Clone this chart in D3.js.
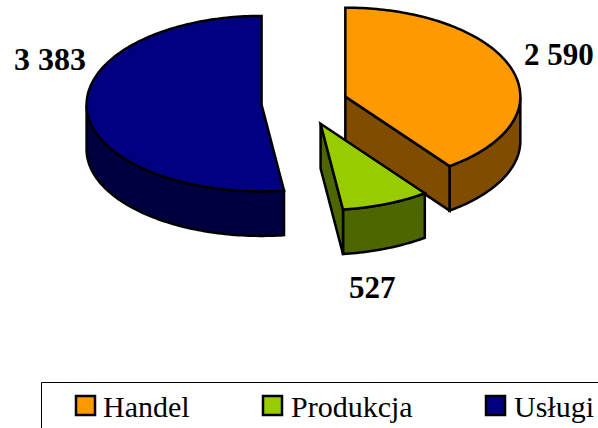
<!DOCTYPE html>
<html>
<head>
<meta charset="utf-8">
<script src="https://cdn.jsdelivr.net/npm/d3@7"></script>
<style>
html,body{margin:0;padding:0;background:#fff;overflow:hidden}
svg{display:block}
text{font-family:"Liberation Serif","Times New Roman",serif;fill:#000}
</style>
</head>
<body>
<svg id="chart" width="598" height="428"></svg>
<script>
const categories = ["Handel", "Produkcja", "Usługi"];
const values = [2590, 527, 3383];
const valueLabels = ["2 590", "527", "3 383"];
const topColors = ["#FF9900", "#99CC00", "#000080"];
const sideColors = ["#804D00", "#4D6600", "#000040"];

// layout
const cx = 304.5, cy = 103.5, rx = 175, ryBack = 89, ryFront = 86.5, depth = 44.5, explode = 43;
const labelPos = [[524, 65], [349, 298], [14, 70]];
const labelSize = [31, 31, 32];
const legendSwatchX = [76, 263, 486];
const legendTextX = [103, 291, 514];

const svg = d3.select("#chart");
const pie = d3.pie().sort(null).value(d => d);
const arcs = pie(values);
const line = d3.line();

function pt(o, a, dz) {
  const c = Math.cos(a);
  return [o[0] + rx * Math.sin(a), o[1] - (c > 0 ? ryBack : ryFront) * c + (dz || 0)];
}
function samples(a0, a1) {
  const n = Math.max(2, Math.ceil(Math.abs(a1 - a0) / 0.02));
  return d3.range(n + 1).map(i => a0 + (a1 - a0) * i / n);
}
function origin(d) {
  const m = (d.startAngle + d.endAngle) / 2;
  return [cx + explode * Math.sin(m), cy - explode * (ryBack / rx) * Math.cos(m)];
}
const stroke = s => s.attr("stroke", "#000").attr("stroke-width", 2.5).attr("stroke-linejoin", "miter");

const order = [2, 0, 1];
order.forEach(i => {
  const d = arcs[i], o = origin(d);
  const g = svg.append("g");
  // outer wall: visible part of the rim lies between 90deg and 270deg
  const w0 = Math.max(d.startAngle, Math.PI / 2), w1 = Math.min(d.endAngle, 3 * Math.PI / 2);
  if (w1 > w0) {
    const as = samples(w0, w1);
    const pts = as.map(a => pt(o, a)).concat(as.slice().reverse().map(a => pt(o, a, depth)));
    g.append("path").attr("d", line(pts) + "Z").attr("fill", sideColors[i]).call(stroke);
  }
  // cut face on the end side of the slice, shown when it faces the viewer
  if (i !== 2) {
    const e = pt(o, d.endAngle);
    const pts = [o, e, [e[0], e[1] + depth], [o[0], o[1] + depth]];
    g.append("path").attr("d", line(pts) + "Z").attr("fill", sideColors[i]).call(stroke);
  }
  // top face
  const pts = [o].concat(samples(d.startAngle, d.endAngle).map(a => pt(o, a)));
  g.append("path").attr("d", line(pts) + "Z").attr("fill", topColors[i]).call(stroke);
});

svg.selectAll("text.val").data(valueLabels).join("text")
  .attr("class", "val")
  .attr("x", (d, i) => labelPos[i][0])
  .attr("y", (d, i) => labelPos[i][1])
  .attr("font-size", (d, i) => labelSize[i]).attr("font-weight", "bold")
  .text(d => d);

// legend frame, cut by the page edge
svg.append("path").attr("d", line([[41.5, 428], [41.5, 382.5], [598, 382.5]]))
  .attr("fill", "none").attr("stroke", "#000").attr("stroke-width", 1);

const leg = svg.selectAll("g.leg").data(categories).join("g").attr("class", "leg");
leg.append("rect")
  .attr("x", (d, i) => legendSwatchX[i]).attr("y", 396)
  .attr("width", 19).attr("height", 19)
  .attr("fill", (d, i) => topColors[i]).call(stroke);
leg.append("text")
  .attr("x", (d, i) => legendTextX[i]).attr("y", 417)
  .attr("font-size", 30)
  .text(d => d);
</script>
</body>
</html>
